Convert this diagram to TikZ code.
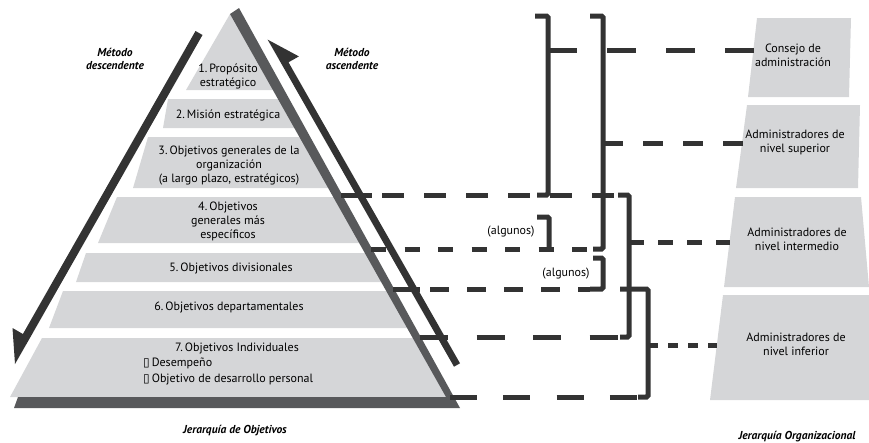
\documentclass[tikz,border=0pt]{standalone}
\usepackage{fontspec}
\setmainfont{PT Sans}
\newfontfamily\symfont{DejaVu Sans}
\definecolor{bandgrey}{HTML}{D5D6D8}
\definecolor{rimgrey}{HTML}{58595B}
\definecolor{inkdark}{HTML}{333333}

\tikzset{
  band/.style={fill=bandgrey, draw=none},
  lbl/.style={font=\fontsize{12}{14}\selectfont, align=center, inner sep=0pt},
  ttl/.style={font=\fontsize{11.5}{13}\selectfont\bfseries\itshape, align=center, inner sep=0pt},
  bracket/.style={draw=inkdark, line width=5pt, rounded corners=1.5pt},
  link/.style={draw=inkdark, line width=5pt}
}

\begin{document}
\begin{tikzpicture}[x=1pt, y=-1pt]
\useasboundingbox (0,0) rectangle (869,442);

% ---------- pyramid of objectives ----------
\fill[band] (230,14) -- (186,90) -- (276,90) -- (234,12) -- cycle;
\fill[band] (168,99) -- (163,128) -- (297,128) -- (281,99) -- cycle;
\fill[band] (148,137) -- (133,188) -- (331,188) -- (302,137) -- cycle;
\fill[band] (117,197) -- (98,243) -- (362,243) -- (336,197) -- cycle;
\fill[band] (86,253) -- (76,282) -- (384,282) -- (368,253) -- cycle;
\fill[band] (63,291) -- (49,328) -- (410,328) -- (389,291) -- cycle;
\fill[band] (42,338) -- (10,397) -- (449,397) -- (416,338) -- cycle;

% shaded rim along the right side and the base
\fill[rimgrey] (230,14) -- (239,8) -- (460,408) -- (14,408) -- (18,397) -- (446,397) -- cycle;

% top-down arrow (left) and bottom-up arrow (right)
\fill[inkdark] (195.5,31) -- (202.5,35) -- (29.9,338) -- (15,364) -- (12.5,328) -- (22.9,334) -- cycle;
\fill[inkdark] (454,366.7) -- (282.5,65.7) -- (267.6,39.6) -- (298.9,56.4) -- (288.5,62.3) -- (460,363.3) -- cycle;

% band labels
\node[lbl] (o1) at (228,76.5) {1.\,Propósito\\estratégico};
\node[lbl] (o2) at (228,115) {2.\,Misión estratégica};
\node[lbl] (o3) at (229,166) {3.\,Objetivos generales de la\\organización\\(a largo plazo, estratégicos)};
\node[lbl] (o4) at (228,221) {4.\,Objetivos\\generales más\\específicos};
\node[lbl] (o5) at (231,268) {5.\,Objetivos divisionales};
\node[lbl] (o6) at (229,307) {6.\,Objetivos departamentales};
\node[lbl] (o7) at (237,348) {7.\,Objetivos Individuales};
\node[lbl, align=left, anchor=west, font=\fontsize{12}{16}\selectfont] (o7b) at (143,371.5)
  {{\symfont ▯}\,Desempeño\\{\symfont ▯}\,Objetivo de desarrollo personal};

% method and hierarchy titles
\node[ttl] (down) at (115,58.5) {Método\\descendente};
\node[ttl] (up) at (352,58.5) {Método\\ascendente};
\node[ttl] (hobj) at (235,431) {Jerarquía de Objetivos};
\node[ttl] (horg) at (797,437) {Jerarquía Organizacional};

% ---------- organisational levels ----------
\fill[band] (757,18) -- (851,18) -- (849,97) -- (748,97) -- cycle;
\fill[band] (747,105) -- (860,105) -- (858,188) -- (736,188) -- cycle;
\fill[band] (735,197) -- (861,197) -- (869,287) -- (724,287) -- cycle;
\fill[band] (723,295) -- (869,295) -- (869,400) -- (710,400) -- cycle;

\node[lbl] (lv1) at (793,55.5) {Consejo de\\administración};
\node[lbl] (lv2) at (795,142.5) {Administradores de\\nivel superior};
\node[lbl] (lv3) at (797,239.5) {Administradores de\\nivel intermedio};
\node[lbl] (lv4) at (796,344.5) {Administradores de\\nivel inferior};

\coordinate (lv1w) at (754,50);
\coordinate (lv2w) at (743,143);
\coordinate (lv3w) at (730,242);
\coordinate (lv4w) at (717,345);

% ---------- brackets ----------
\coordinate (Atop) at (535,16);  \coordinate (Atc) at (548,16);
\coordinate (Abc) at (548,195);  \coordinate (Abot) at (537,195);
\coordinate (Atick) at (548,50);
\coordinate (Btop) at (590,16);  \coordinate (Btc) at (603,16);
\coordinate (Bbc) at (603,249);  \coordinate (Bbot) at (593,249);
\coordinate (Btick) at (603,143);
\coordinate (Ctop) at (618,195); \coordinate (Ctc) at (629,195);
\coordinate (Cbc) at (629,337);  \coordinate (Cbot) at (620,337);
\coordinate (Ctick) at (629,242);
\coordinate (Dtop) at (537,217); \coordinate (Dtc) at (549,217);
\coordinate (Dbc) at (549,249);
\coordinate (Etop) at (593,258); \coordinate (Etc) at (603,258);
\coordinate (Ebc) at (603,289);  \coordinate (Ebot) at (590,289);
\coordinate (Ftop) at (620,289); \coordinate (Ftc) at (648,289);
\coordinate (Fbc) at (648,397);  \coordinate (Fbot) at (638,397);
\coordinate (Ftick) at (648,345);

\draw[bracket] (Atop) -- (Atc) -- (Abc) -- (Abot);
\draw[bracket] (Btop) -- (Btc) -- (Bbc) -- (Bbot);
\draw[bracket] (Ctop) -- (Ctc) -- (Cbc) -- (Cbot);
\draw[bracket] (Dtop) -- (Dtc) -- (Dbc);
\draw[bracket] (Etop) -- (Etc) -- (Ebc) -- (Ebot);
\draw[bracket] (Ftop) -- (Ftc) -- (Fbc) -- (Fbot);

\node[lbl] (some1) at (511,232) {(algunos)};
\node[lbl] (some2) at (566,274) {(algunos)};

% ---------- dashed links from the pyramid ----------
\coordinate (p3) at (341,195);
\coordinate (p4) at (371,249);
\coordinate (p5) at (393,289);
\coordinate (p6) at (420,337);
\coordinate (p7) at (450,397);

\draw[link, dash pattern=on 31pt off 10pt on 22pt off 20pt on 22pt off 20pt on 22pt off 20pt on 22pt off 20pt on 22pt off 20pt on 22pt off 20pt on 22pt off 20pt] (p3) -- (Ctop);
\draw[link, dash pattern=on 15pt off 18.5pt] (p4) -- (Bbot);
\draw[link, dash pattern=on 27pt off 10pt on 18.5pt off 18.5pt on 18.5pt off 18.5pt on 18.5pt off 18.5pt on 18.5pt off 18.5pt on 18.5pt off 18.5pt on 18.5pt off 18.5pt] (p5) -- (Ebot);
\draw[link, dash pattern=on 28pt off 28.5pt] (p6) -- (Cbot);
\draw[link, dash pattern=on 27pt off 26.3pt] (p7) -- (Fbot);

% ---------- dashed links to the organisational levels ----------
\draw[link, dash pattern=on 29pt off 30pt] (Atick) -- (lv1w);
\draw[link, dash pattern=on 20pt off 20pt] (Btick) -- (lv2w);
\draw[link, dash pattern=on 14.5pt off 14.5pt] (Ctick) -- (lv3w);
\draw[link, dash pattern=on 10pt off 10pt] (Ftick) -- (lv4w);
\end{tikzpicture}
\end{document}
